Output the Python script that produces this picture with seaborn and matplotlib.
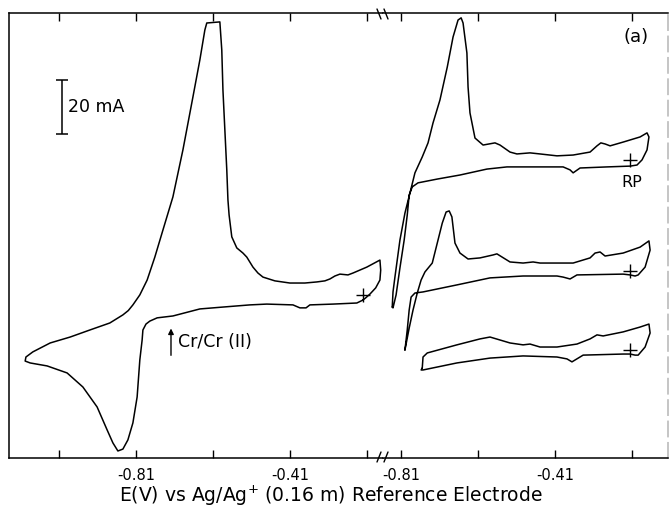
import matplotlib
matplotlib.use("Agg")
import matplotlib.pyplot as plt
from matplotlib.lines import Line2D
import seaborn as sns

# Left panel: first sweep (E in V, I in mA)
E_main = [-0.220, -0.236, -0.298, -0.358, -0.368, -0.384, -0.402, -0.470, -0.514, -0.584,
          -0.644, -0.714, -0.755, -0.774, -0.784, -0.792, -0.794, -0.800, -0.807, -0.818,
          -0.831, -0.844, -0.857, -0.870, -0.885, -0.911, -0.948, -0.989, -1.041, -1.085,
          -1.098, -1.096, -1.078, -1.033, -0.981, -0.930, -0.878, -0.844, -0.830, -0.818,
          -0.800, -0.781, -0.761, -0.740, -0.714, -0.688, -0.662, -0.644, -0.631, -0.626,
          -0.592, -0.587, -0.584, -0.579, -0.574, -0.571, -0.568, -0.561, -0.548, -0.532,
          -0.522, -0.506, -0.493, -0.480, -0.449, -0.410, -0.371, -0.340, -0.319, -0.306,
          -0.293, -0.280, -0.259, -0.246, -0.210, -0.176, -0.174, -0.176, -0.187, -0.202,
          -0.213, -0.220]
I_main = [-1.5, -2.6, -3.0, -3.3, -4.4, -4.4, -3.3, -3.0, -3.3, -4.1,
          -4.8, -7.4, -8.1, -9.3, -10.4, -12.6, -16.3, -23.7, -37.4, -47.0,
          -53.3, -56.7, -57.4, -54.4, -49.6, -41.1, -33.7, -28.5, -25.9, -24.8,
          -24.1, -22.6, -20.7, -17.4, -15.2, -12.6, -10.0, -7.0, -5.4, -3.3,
          0.4, 5.9, 14.4, 24.4, 36.7, 54.1, 73.7, 87.4, 98.5, 101.1,
          101.5, 91.1, 76.3, 61.5, 46.7, 35.6, 30.0, 21.9, 17.8, 15.9,
          14.4, 10.7, 8.5, 7.0, 5.6, 4.8, 4.8, 5.2, 5.6, 6.3,
          7.4, 8.1, 7.8, 8.5, 10.7, 13.3, 9.6, 5.9, 3.0, 0.7,
          -0.7, -1.5]

# Right panel: three later cycles, stacked
E_top = [-0.833, -0.831, -0.826, -0.813, -0.800, -0.787, -0.774, -0.755, -0.740, -0.727,
         -0.709, -0.690, -0.675, -0.662, -0.654, -0.649, -0.639, -0.636, -0.631, -0.618,
         -0.597, -0.566, -0.553, -0.527, -0.509, -0.475, -0.449, -0.405, -0.363, -0.319,
         -0.301, -0.291, -0.280, -0.267, -0.233, -0.189, -0.171, -0.166, -0.171, -0.184,
         -0.197, -0.215, -0.275, -0.345, -0.363, -0.371, -0.389, -0.449, -0.535, -0.587,
         -0.657, -0.716, -0.766, -0.781, -0.789, -0.794, -0.802, -0.813, -0.823, -0.831,
         -0.833]
I_top = [-4.1, 1.5, 7.0, 20.7, 30.7, 38.1, 45.6, 51.5, 56.7, 64.1,
         72.6, 84.8, 95.9, 102.2, 103.0, 101.1, 90.0, 77.4, 67.8, 58.5,
         55.9, 56.7, 55.9, 53.3, 52.6, 53.0, 52.6, 51.9, 52.2, 53.3,
         55.6, 56.7, 56.3, 55.6, 57.0, 58.9, 60.4, 58.9, 54.1, 50.4,
         48.5, 48.1, 47.8, 47.4, 45.6, 46.7, 47.8, 47.8, 47.8, 47.0,
         44.8, 43.3, 41.9, 40.4, 37.4, 30.0, 20.7, 10.4, 0.4, -4.4,
         -4.1]

E_mid = [-0.800, -0.789, -0.779, -0.768, -0.758, -0.748, -0.729, -0.716, -0.703, -0.693,
         -0.685, -0.678, -0.670, -0.657, -0.636, -0.605, -0.571, -0.561, -0.527, -0.493,
         -0.467, -0.449, -0.363, -0.319, -0.306, -0.293, -0.280, -0.233, -0.189, -0.166,
         -0.163, -0.176, -0.194, -0.202, -0.215, -0.233, -0.353, -0.371, -0.389, -0.405,
         -0.493, -0.579, -0.665, -0.753, -0.774, -0.784, -0.789, -0.794, -0.800]
I_mid = [-20.0, -11.9, -5.2, 1.1, 5.9, 8.9, 12.2, 19.6, 27.0, 31.1,
         31.5, 29.3, 19.6, 15.9, 13.7, 14.1, 15.2, 15.6, 12.6, 12.2,
         12.6, 12.2, 12.2, 14.1, 15.9, 16.3, 14.8, 15.9, 18.1, 20.4,
         17.0, 10.7, 7.8, 7.4, 7.8, 8.1, 7.8, 6.3, 7.0, 7.4,
         7.4, 6.7, 4.1, 1.5, 1.1, -0.4, -5.2, -12.6, -20.0]

E_bot = [-0.755, -0.753, -0.742, -0.665, -0.605, -0.579, -0.553, -0.527, -0.493, -0.475,
         -0.449, -0.405, -0.353, -0.319, -0.301, -0.285, -0.233, -0.189, -0.166, -0.163,
         -0.176, -0.194, -0.202, -0.215, -0.233, -0.337, -0.366, -0.379, -0.405, -0.493,
         -0.579, -0.665, -0.753, -0.758, -0.755]
I_bot = [-26.7, -22.6, -21.1, -18.1, -15.9, -15.2, -16.3, -17.4, -18.1, -17.8,
         -18.9, -18.9, -17.8, -15.9, -14.4, -14.8, -13.3, -11.5, -10.4, -13.7,
         -18.9, -21.9, -21.9, -21.5, -21.5, -21.9, -24.4, -23.3, -22.6, -22.2,
         -23.0, -24.8, -27.4, -27.4, -26.7]

# start (rest potential) markers
E_rp_left = [-0.220]
I_rp_left = [0.4]
E_rp_right = [-0.215, -0.215, -0.215]
I_rp_right = [50.4, 9.3, -20.0]

left_ticks = [-1.01, -0.81, -0.61, -0.41, -0.21]
left_labels = ["", "-0.81", "", "-0.41", ""]
right_ticks = [-0.81, -0.61, -0.41, -0.21]
right_labels = ["-0.81", "", "-0.41", ""]

sns.set_theme(style="white")
plt.rcParams["font.family"] = ["DejaVu Sans"]
plt.rcParams["axes.unicode_minus"] = False
plt.rcParams["text.color"] = "black"

W, H = 670, 509
fig = plt.figure(figsize=(W / 100, H / 100), dpi=100)
x0, xb, x1 = 9, 383, 668
y0, y1 = 13, 458
ax1 = fig.add_axes([x0 / W, 1 - y1 / H, (xb - x0) / W, (y1 - y0) / H])
ax2 = fig.add_axes([xb / W, 1 - y1 / H, (x1 - xb) / W, (y1 - y0) / H])

line_kw = dict(sort=False, estimator=None, color="black", linewidth=1.1)
sns.lineplot(x=E_main, y=I_main, ax=ax1, **line_kw)
for e, i in [(E_top, I_top), (E_mid, I_mid), (E_bot, I_bot)]:
    sns.lineplot(x=e, y=i, ax=ax2, **line_kw)

sns.scatterplot(x=E_rp_left, y=I_rp_left, ax=ax1, marker="+", s=90,
                color="black", linewidth=1.0)
sns.scatterplot(x=E_rp_right, y=I_rp_right, ax=ax2, marker="+", s=90,
                color="black", linewidth=1.0)

ax1.set_xlim(-1.140, -0.168)
ax2.set_xlim(-0.857, -0.1165)
for ax in (ax1, ax2):
    ax.set_ylim(-60.0, 104.8)
    ax.set_yticks([])
    ax.set_xlabel("")
    ax.set_ylabel("")
    ax.tick_params(axis="x", direction="in", length=6, width=1.0, top=True,
                   bottom=True, labelsize=10.5, pad=7, colors="black")
    for s in ax.spines.values():
        s.set_color("black")
        s.set_linewidth(1.1)

ax1.set_xticks(left_ticks, left_labels)
ax2.set_xticks(right_ticks, right_labels)
ax1.spines["right"].set_visible(False)
ax2.spines["left"].set_visible(False)
ax2.spines["right"].set_color("#b5b5b5")
ax2.spines["right"].set_linestyle((0, (10, 4)))

# 20 mA scale bar
ax1.errorbar(x=-1.002, y=70, yerr=10, color="black", capsize=4,
             elinewidth=1.1, capthick=1.1)
ax1.text(-0.987, 70, "20 mA", fontsize=12.5, va="center", ha="left")

# Cr/Cr(II) arrow
ax1.annotate("", xy=(-0.719, -11.0), xytext=(-0.719, -23.0),
             arrowprops=dict(arrowstyle="-|>", color="black", lw=1.0,
                             mutation_scale=8))
ax1.text(-0.700, -17.0, "Cr/Cr (II)", fontsize=12.5, va="center", ha="left")

ax2.text(-0.210, 41.9, "RP", fontsize=11.5, va="center", ha="center")
ax2.text(-0.200, 95.9, "(a)", fontsize=13, va="center", ha="center")

# axis break marks
for xm in (379, 386):
    fig.add_artist(Line2D([(xm - 2) / W, (xm + 2) / W],
                          [1 - (y1 + 4) / H, 1 - (y1 - 6) / H],
                          color="black", linewidth=1.0))
    fig.add_artist(Line2D([(xm - 2) / W, (xm + 2) / W],
                          [1 - (y0 - 4) / H, 1 - (y0 + 6) / H],
                          color="black", linewidth=1.0))

fig.text(331 / W, 1 - 496 / H, "E(V) vs Ag/Ag$^{+}$ (0.16 m) Reference Electrode",
         fontsize=13.5, ha="center", va="center")

fig.savefig("out.png", dpi=100)
